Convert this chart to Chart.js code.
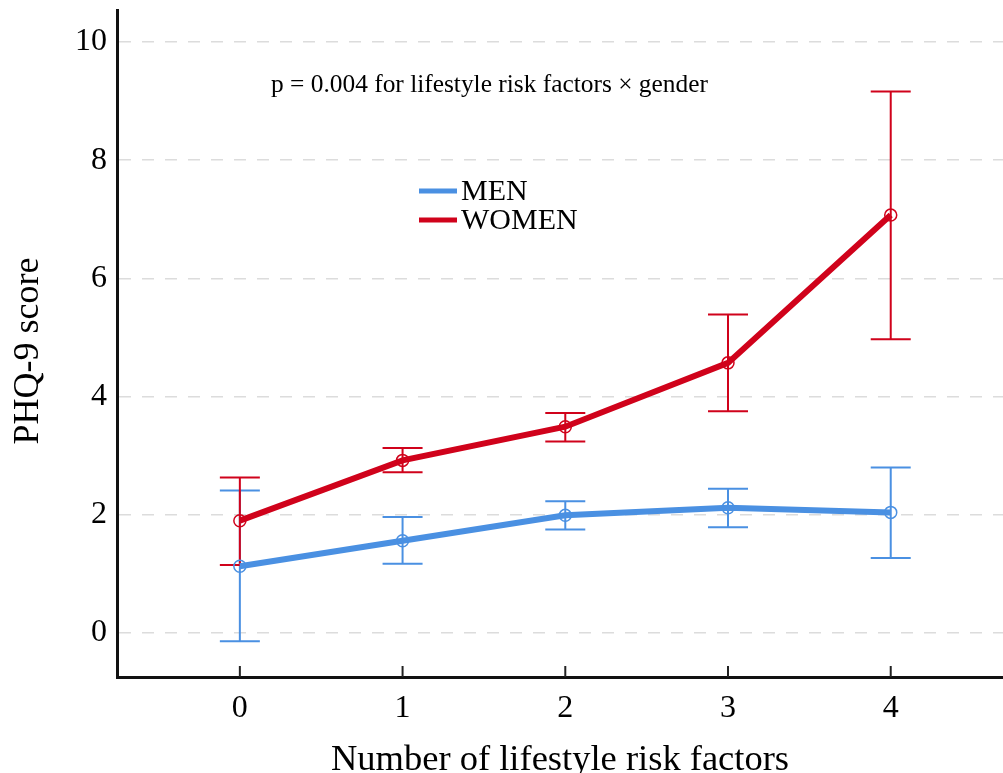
<!DOCTYPE html>
<html>
<head>
<meta charset="utf-8">
<script src="https://cdn.jsdelivr.net/npm/chart.js@4"></script>
<style>
  html, body { margin: 0; padding: 0; background: #fff; overflow: hidden; }
  canvas { display: block; }
</style>
</head>
<body>
<canvas id="chart" width="1003" height="773"></canvas>
<script>
// number of lifestyle risk factors
const riskFactors = [0, 1, 2, 3, 4];

// PHQ-9 means and error bar limits
const menMean   = [1.13, 1.56, 1.99, 2.12, 2.04];
const menLow    = [-0.14, 1.17, 1.75, 1.79, 1.27];
const menHigh   = [2.41, 1.96, 2.23, 2.44, 2.80];

const womenMean = [1.90, 2.92, 3.49, 4.57, 7.07];
const womenLow  = [1.15, 2.72, 3.24, 3.75, 4.97];
const womenHigh = [2.63, 3.13, 3.72, 5.39, 9.16];

const yTicks = [0, 2, 4, 6, 8, 10];
const seriesNames = ['MEN', 'WOMEN'];
const noteText = 'p = 0.004 for lifestyle risk factors \u00d7 gender';
const yTitle = 'PHQ-9 score';

const BLUE = '#4a90e2';
const RED = '#d0021b';
const SERIF = '"Liberation Serif", "DejaVu Serif", serif';

const toPoints = ys => riskFactors.map((x, i) => ({ x: x, y: ys[i] }));

// scales must not steal room for their edge labels
const noPad = s => { s.paddingTop = 0; s.paddingBottom = 0; s.paddingLeft = 0; s.paddingRight = 0; };

// error bars, tick marks, y title, note and legend
const extras = {
    id: 'extras',
    beforeDatasetsDraw(chart) {
        const { ctx, scales: { x, y } } = chart;
        const bars = [
            { low: menLow, high: menHigh, color: BLUE },
            { low: womenLow, high: womenHigh, color: RED },
        ];
        ctx.save();
        ctx.lineWidth = 2;
        bars.forEach(b => {
            ctx.strokeStyle = b.color;
            riskFactors.forEach((v, i) => {
                const px = x.getPixelForValue(v);
                const y1 = y.getPixelForValue(b.low[i]);
                const y2 = y.getPixelForValue(b.high[i]);
                ctx.beginPath();
                ctx.moveTo(px, y1); ctx.lineTo(px, y2);
                ctx.moveTo(px - 20, y1); ctx.lineTo(px + 20, y1);
                ctx.moveTo(px - 20, y2); ctx.lineTo(px + 20, y2);
                ctx.stroke();
            });
        });
        ctx.restore();
    },
    afterDraw(chart) {
        const { ctx, chartArea, scales: { x } } = chart;
        ctx.save();
        // short ticks pointing up from the x axis
        ctx.strokeStyle = '#222';
        ctx.lineWidth = 2;
        riskFactors.forEach(v => {
            const px = x.getPixelForValue(v);
            ctx.beginPath();
            ctx.moveTo(px, chartArea.bottom);
            ctx.lineTo(px, chartArea.bottom - 11);
            ctx.stroke();
        });

        ctx.fillStyle = '#000';

        // y axis title, sits a little below the plot centre in the original
        ctx.save();
        ctx.translate(38, 351);
        ctx.rotate(-Math.PI / 2);
        ctx.textAlign = 'center';
        ctx.textBaseline = 'alphabetic';
        ctx.font = '36px ' + SERIF;
        ctx.fillText(yTitle, 0, 0);
        ctx.restore();

        ctx.textBaseline = 'middle';
        ctx.font = '25.4px ' + SERIF;
        ctx.fillText(noteText, 271, 85);

        ctx.font = '30px ' + SERIF;
        [BLUE, RED].forEach((c, i) => {
            const ly = 191 + i * 29;
            ctx.strokeStyle = c;
            ctx.lineWidth = 5;
            ctx.beginPath();
            ctx.moveTo(419, ly); ctx.lineTo(457, ly);
            ctx.stroke();
            ctx.fillText(seriesNames[i], 461, ly + 1);
        });
        ctx.restore();
    }
};

new Chart(document.getElementById('chart'), {
    type: 'line',
    data: {
        datasets: [
            {
                label: seriesNames[0],
                data: toPoints(menMean),
                borderColor: BLUE,
                borderWidth: 6,
                pointRadius: 6,
                pointBorderWidth: 1.5,
                pointBorderColor: BLUE,
                pointBackgroundColor: 'rgba(0,0,0,0)',
                tension: 0,
            },
            {
                label: seriesNames[1],
                data: toPoints(womenMean),
                borderColor: RED,
                borderWidth: 6,
                pointRadius: 6,
                pointBorderWidth: 1.5,
                pointBorderColor: RED,
                pointBackgroundColor: 'rgba(0,0,0,0)',
                tension: 0,
            },
        ],
    },
    options: {
        responsive: false,
        animation: false,
        layout: { autoPadding: false, padding: { top: 10, right: 0, left: 0, bottom: 0 } },
        plugins: {
            legend: { display: false },
            tooltip: { enabled: false },
        },
        scales: {
            x: {
                type: 'linear',
                min: -0.755,
                max: 4.69,
                afterBuildTicks: s => { s.ticks = riskFactors.map(v => ({ value: v })); },
                afterFit: s => { s.height = 96; noPad(s); },
                grid: { display: false, drawTicks: false },
                border: { display: true, color: '#111', width: 3 },
                ticks: { color: '#000', padding: 12, font: { family: SERIF, size: 32 } },
                title: {
                    display: true,
                    text: 'Number of lifestyle risk factors',
                    color: '#000',
                    padding: { top: 0, bottom: 0 },
                    font: { family: SERIF, size: 36.5, lineHeight: 0.7 },
                },
            },
            y: {
                min: -0.745,
                max: 10.54,
                afterBuildTicks: s => { s.ticks = yTicks.map(v => ({ value: v })); },
                afterFit: s => { s.width = 117; noPad(s); },
                grid: {
                    color: '#dcdcdc',
                    lineWidth: 1.5,
                    drawTicks: false,
                },
                border: { display: true, color: '#111', width: 3, dash: [12, 11] },
                ticks: { color: '#000', padding: 10, font: { family: SERIF, size: 32 } },
                title: { display: false },
            },
        },
    },
    plugins: [extras],
});
</script>
</body>
</html>
